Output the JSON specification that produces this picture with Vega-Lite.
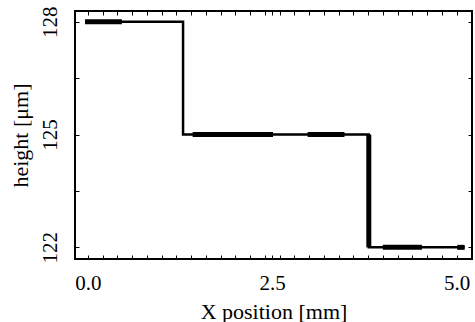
{
  "$schema": "https://vega.github.io/schema/vega-lite/v6.json",
  "width": 397,
  "height": 248,
  "autosize": {"type": "none"},
  "padding": {"left": 75, "top": 11, "right": 3, "bottom": 63},
  "config": {
    "view": {"stroke": "black", "strokeWidth": 2},
    "font": "Liberation Serif",
    "axis": {
      "domain": false,
      "grid": false,
      "ticks": true,
      "tickColor": "black",
      "tickSize": -4,
      "tickWidth": 1,
      "labelFont": "Liberation Serif",
      "labelFontSize": 21,
      "labelColor": "black",
      "labelOverlap": false,
      "labelFlush": false,
      "titleFont": "Liberation Serif",
      "titleFontSize": 22,
      "titleFontWeight": "normal",
      "titleColor": "black"
    }
  },
  "datasets": {
    "profile": [
      {"i": 0, "x": -0.04, "h": 128},
      {"i": 1, "x": 1.29, "h": 128},
      {"i": 2, "x": 1.29, "h": 125},
      {"i": 3, "x": 3.81, "h": 125},
      {"i": 4, "x": 3.81, "h": 122},
      {"i": 5, "x": 5.11, "h": 122}
    ],
    "thick": [
      {"seg": "a", "i": 0, "x": -0.04, "h": 128},
      {"seg": "a", "i": 1, "x": 0.46, "h": 128},
      {"seg": "b", "i": 0, "x": 1.42, "h": 125},
      {"seg": "b", "i": 1, "x": 2.51, "h": 125},
      {"seg": "c", "i": 0, "x": 2.98, "h": 125},
      {"seg": "c", "i": 1, "x": 3.48, "h": 125},
      {"seg": "d", "i": 0, "x": 3.81, "h": 125},
      {"seg": "d", "i": 1, "x": 3.81, "h": 122},
      {"seg": "e", "i": 0, "x": 4.0, "h": 122},
      {"seg": "e", "i": 1, "x": 4.53, "h": 122},
      {"seg": "f", "i": 0, "x": 5.01, "h": 122},
      {"seg": "f", "i": 1, "x": 5.11, "h": 122}
    ]
  },
  "layer": [
    {
      "data": {"name": "profile"},
      "mark": {"type": "line", "color": "black", "strokeWidth": 2.5, "strokeCap": "butt", "strokeJoin": "miter", "clip": true},
      "encoding": {
        "x": {
          "field": "x", "type": "quantitative",
          "scale": {"domain": [-0.176, 5.21], "nice": false, "zero": false},
          "axis": {
            "orient": "bottom",
            "title": "X position [mm]",
            "values": [0, 0.2, 0.4, 0.6, 0.8, 1, 1.2, 1.4, 1.6, 1.8, 2, 2.2, 2.4, 2.5, 2.6, 2.8, 3, 3.2, 3.4, 3.6, 3.8, 4, 4.2, 4.4, 4.6, 4.8, 5],
            "labelExpr": "datum.value == 0 || datum.value == 2.5 || datum.value == 5 ? format(datum.value, '.1f') : ''",
            "labelPadding": 17,
            "titlePadding": 8
          }
        },
        "y": {
          "field": "h", "type": "quantitative",
          "scale": {"domain": [121.69, 128.285], "nice": false, "zero": false},
          "axis": {
            "orient": "left",
            "title": "height [μm]",
            "values": [122, 123.5, 125, 126.5, 128],
            "labelExpr": "datum.value % 1 == 0 ? format(datum.value, 'd') : ''",
            "labelAngle": -90,
            "labelAlign": "center",
            "labelBaseline": "bottom",
            "labelPadding": 19,
            "titlePadding": 7
          }
        },
        "order": {"field": "i", "type": "quantitative"}
      }
    },
    {
      "data": {"name": "thick"},
      "mark": {"type": "line", "color": "black", "strokeWidth": 5, "strokeCap": "butt", "clip": true},
      "encoding": {
        "x": {
          "field": "x", "type": "quantitative",
          "scale": {"domain": [-0.176, 5.21], "nice": false, "zero": false},
          "axis": {
            "orient": "top",
            "title": null,
            "labels": false,
            "values": [0, 0.2, 0.4, 0.6, 0.8, 1, 1.2, 1.4, 1.6, 1.8, 2, 2.2, 2.4, 2.5, 2.6, 2.8, 3, 3.2, 3.4, 3.6, 3.8, 4, 4.2, 4.4, 4.6, 4.8, 5]
          }
        },
        "y": {
          "field": "h", "type": "quantitative",
          "scale": {"domain": [121.69, 128.285], "nice": false, "zero": false},
          "axis": {
            "orient": "right",
            "title": null,
            "labels": false,
            "values": [122, 123.5, 125, 126.5, 128]
          }
        },
        "detail": {"field": "seg", "type": "nominal"},
        "order": {"field": "i", "type": "quantitative"}
      }
    }
  ],
  "resolve": {"axis": {"x": "independent", "y": "independent"}}
}
